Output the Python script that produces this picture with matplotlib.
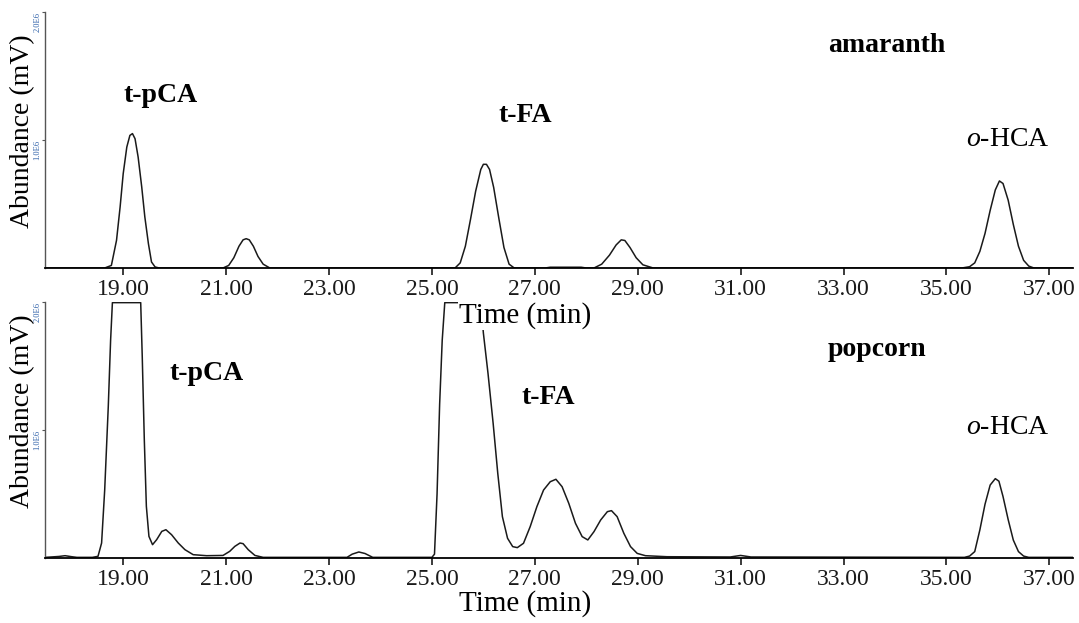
import numpy as np
import matplotlib.pyplot as plt

plt.rcParams['font.family'] = ['Liberation Serif', 'DejaVu Serif']
plt.rcParams['mathtext.fontset'] = 'custom'
plt.rcParams['mathtext.rm'] = 'Liberation Serif'
plt.rcParams['mathtext.it'] = 'Liberation Serif:italic'

# retention time (min) and abundance (x1E6 mV)
amaranth_time = [17.48, 18.64, 18.77, 18.87, 18.94, 19.00, 19.07, 19.13, 19.18,
                 19.23, 19.29, 19.36, 19.42, 19.49, 19.55, 19.62, 19.70,
                 20.94, 21.05, 21.15, 21.25, 21.33, 21.39, 21.45, 21.53, 21.62,
                 21.72, 21.85,
                 25.45, 25.55, 25.65, 25.75, 25.85, 25.95, 26.00, 26.06, 26.12,
                 26.20, 26.30, 26.40, 26.50, 26.60,
                 27.20, 27.30, 27.90, 28.00,
                 28.15, 28.30, 28.45, 28.58, 28.68, 28.75, 28.85, 28.97, 29.10,
                 29.30,
                 35.30, 35.45, 35.55, 35.65, 35.75, 35.85, 35.95, 36.03, 36.10,
                 36.20, 36.30, 36.40, 36.50, 36.60, 36.70, 37.46]
amaranth_signal = [0.0, 0.0, 0.02, 0.216, 0.477, 0.737, 0.945, 1.036, 1.05,
                   1.01, 0.867, 0.633, 0.40, 0.19, 0.047, 0.008, 0.0,
                   0.0, 0.02, 0.08, 0.17, 0.22, 0.229, 0.22, 0.17, 0.09,
                   0.03, 0.0,
                   0.0, 0.04, 0.17, 0.38, 0.60, 0.77, 0.81, 0.81, 0.77,
                   0.63, 0.39, 0.16, 0.03, 0.0,
                   0.0, 0.006, 0.006, 0.0,
                   0.0, 0.03, 0.10, 0.18, 0.22, 0.215, 0.16, 0.08, 0.025,
                   0.0,
                   0.0, 0.01, 0.04, 0.13, 0.27, 0.45, 0.61, 0.68, 0.66,
                   0.53, 0.34, 0.17, 0.06, 0.015, 0.0, 0.0]

popcorn_time = [17.48, 17.60, 17.75, 17.87, 18.00, 18.10, 18.40,
                18.51, 18.58, 18.64, 18.71, 18.755, 18.79, 19.34, 19.37,
                19.41, 19.45, 19.50, 19.57, 19.65, 19.75, 19.83, 19.94, 20.07,
                20.20, 20.36, 20.62, 20.94, 21.07, 21.17, 21.27, 21.33, 21.43,
                21.56, 21.72,
                23.35, 23.45, 23.58, 23.70, 23.85,
                25.00, 25.05, 25.10, 25.15, 25.20, 25.25, 25.95, 26.00, 26.09,
                26.19, 26.28, 26.37, 26.47, 26.57, 26.66, 26.78, 26.91, 27.04,
                27.17, 27.30, 27.41, 27.53, 27.66, 27.79, 27.92, 28.03, 28.15,
                28.28, 28.41, 28.49, 28.60, 28.73, 28.86, 28.99, 29.15, 29.57,
                30.80, 31.00, 31.20,
                35.35, 35.45, 35.55, 35.65, 35.75, 35.85, 35.95, 36.02, 36.10,
                36.20, 36.30, 36.40, 36.50, 36.60, 37.46]
popcorn_signal = [0.005, 0.008, 0.012, 0.018, 0.01, 0.005, 0.005,
                  0.013, 0.117, 0.53, 1.185, 1.70, 1.995, 1.995, 1.575,
                  0.925, 0.404, 0.169, 0.104, 0.143, 0.208, 0.221, 0.182, 0.117,
                  0.065, 0.026, 0.018, 0.02, 0.052, 0.091, 0.117, 0.112, 0.065,
                  0.02, 0.005,
                  0.005, 0.03, 0.047, 0.035, 0.005,
                  0.005, 0.03, 0.50, 1.20, 1.70, 1.995, 1.995, 1.758, 1.443,
                  1.052, 0.661, 0.323, 0.154, 0.089, 0.081, 0.115, 0.245, 0.401,
                  0.531, 0.596, 0.615, 0.557, 0.427, 0.271, 0.167, 0.141, 0.206,
                  0.297, 0.362, 0.37, 0.323, 0.193, 0.089, 0.036, 0.018, 0.01,
                  0.008, 0.02, 0.008,
                  0.005, 0.015, 0.05, 0.22, 0.42, 0.57, 0.62, 0.60, 0.48,
                  0.30, 0.14, 0.05, 0.015, 0.005, 0.005]

x_ticks = [19, 21, 23, 25, 27, 29, 31, 33, 35, 37]
y_ticks = [1.0, 2.0]
y_tick_labels = ['1.0E6', '2.0E6']

W, H = 1079, 623


def fx(px):
    return px / W


def fy(py):
    return 1 - py / H


fig = plt.figure(figsize=(W / 100, H / 100), dpi=100)
ax_top = fig.add_axes([fx(45), fy(268), (1073 - 45) / W, 256 / H])
ax_bot = fig.add_axes([fx(45), fy(558), (1073 - 45) / W, 256 / H])

for ax, t, s in [(ax_top, amaranth_time, amaranth_signal),
                 (ax_bot, popcorn_time, popcorn_signal)]:
    ax.plot(t, s, color='#1a1a1a', lw=1.1)
    ax.set_xlim(17.48, 37.46)
    ax.set_ylim(0, 2.0)
    ax.spines['top'].set_visible(False)
    ax.spines['right'].set_visible(False)
    ax.spines['bottom'].set_linewidth(1.3)
    ax.spines['left'].set_linewidth(1.0)
    ax.spines['left'].set_color('#555555')
    ax.set_xticks(x_ticks)
    ax.set_xticklabels(['%.2f' % v for v in x_ticks])
    ax.tick_params(axis='x', direction='out', length=5, width=1.2,
                   labelsize=17, pad=3, colors='#1a1a1a')
    ax.set_yticks(y_ticks)
    ax.set_yticklabels(y_tick_labels, rotation=90, va='top')
    ax.tick_params(axis='y', direction='out', length=2, width=0.8,
                   labelsize=6, pad=0.5, labelcolor='#2a5ea8',
                   color='#555555')
    ax.patch.set_alpha(0)

# y axis titles
fig.text(fx(23), fy(131), 'Abundance (mV)', rotation=90, fontsize=20,
         ha='center', va='center')
fig.text(fx(23), fy(411), 'Abundance (mV)', rotation=90, fontsize=20,
         ha='center', va='center')

# x axis titles (the upper one sits over the lower panel)
fig.text(fx(525), fy(316), 'Time (min)', fontsize=21, ha='center',
         va='center', zorder=5,
         bbox=dict(facecolor='white', edgecolor='none', pad=0.5))
fig.text(fx(525), fy(604), 'Time (min)', fontsize=21, ha='center',
         va='center')

# peak and sample labels
bold = dict(fontsize=20, fontweight='bold', ha='center', va='center')
fig.text(fx(161), fy(95), 't-pCA', **bold)
fig.text(fx(525), fy(115), 't-FA', **bold)
fig.text(fx(887), fy(45), 'amaranth', **bold)
fig.text(fx(207), fy(373), 't-pCA', **bold)
fig.text(fx(548), fy(397), 't-FA', **bold)
fig.text(fx(877), fy(350), 'popcorn', **bold)
fig.text(fx(1008), fy(140), r'$\mathit{o}$-HCA', fontsize=20,
         ha='center', va='center')
fig.text(fx(1008), fy(427), r'$\mathit{o}$-HCA', fontsize=20,
         ha='center', va='center')

fig.savefig('out.png', dpi=100)
